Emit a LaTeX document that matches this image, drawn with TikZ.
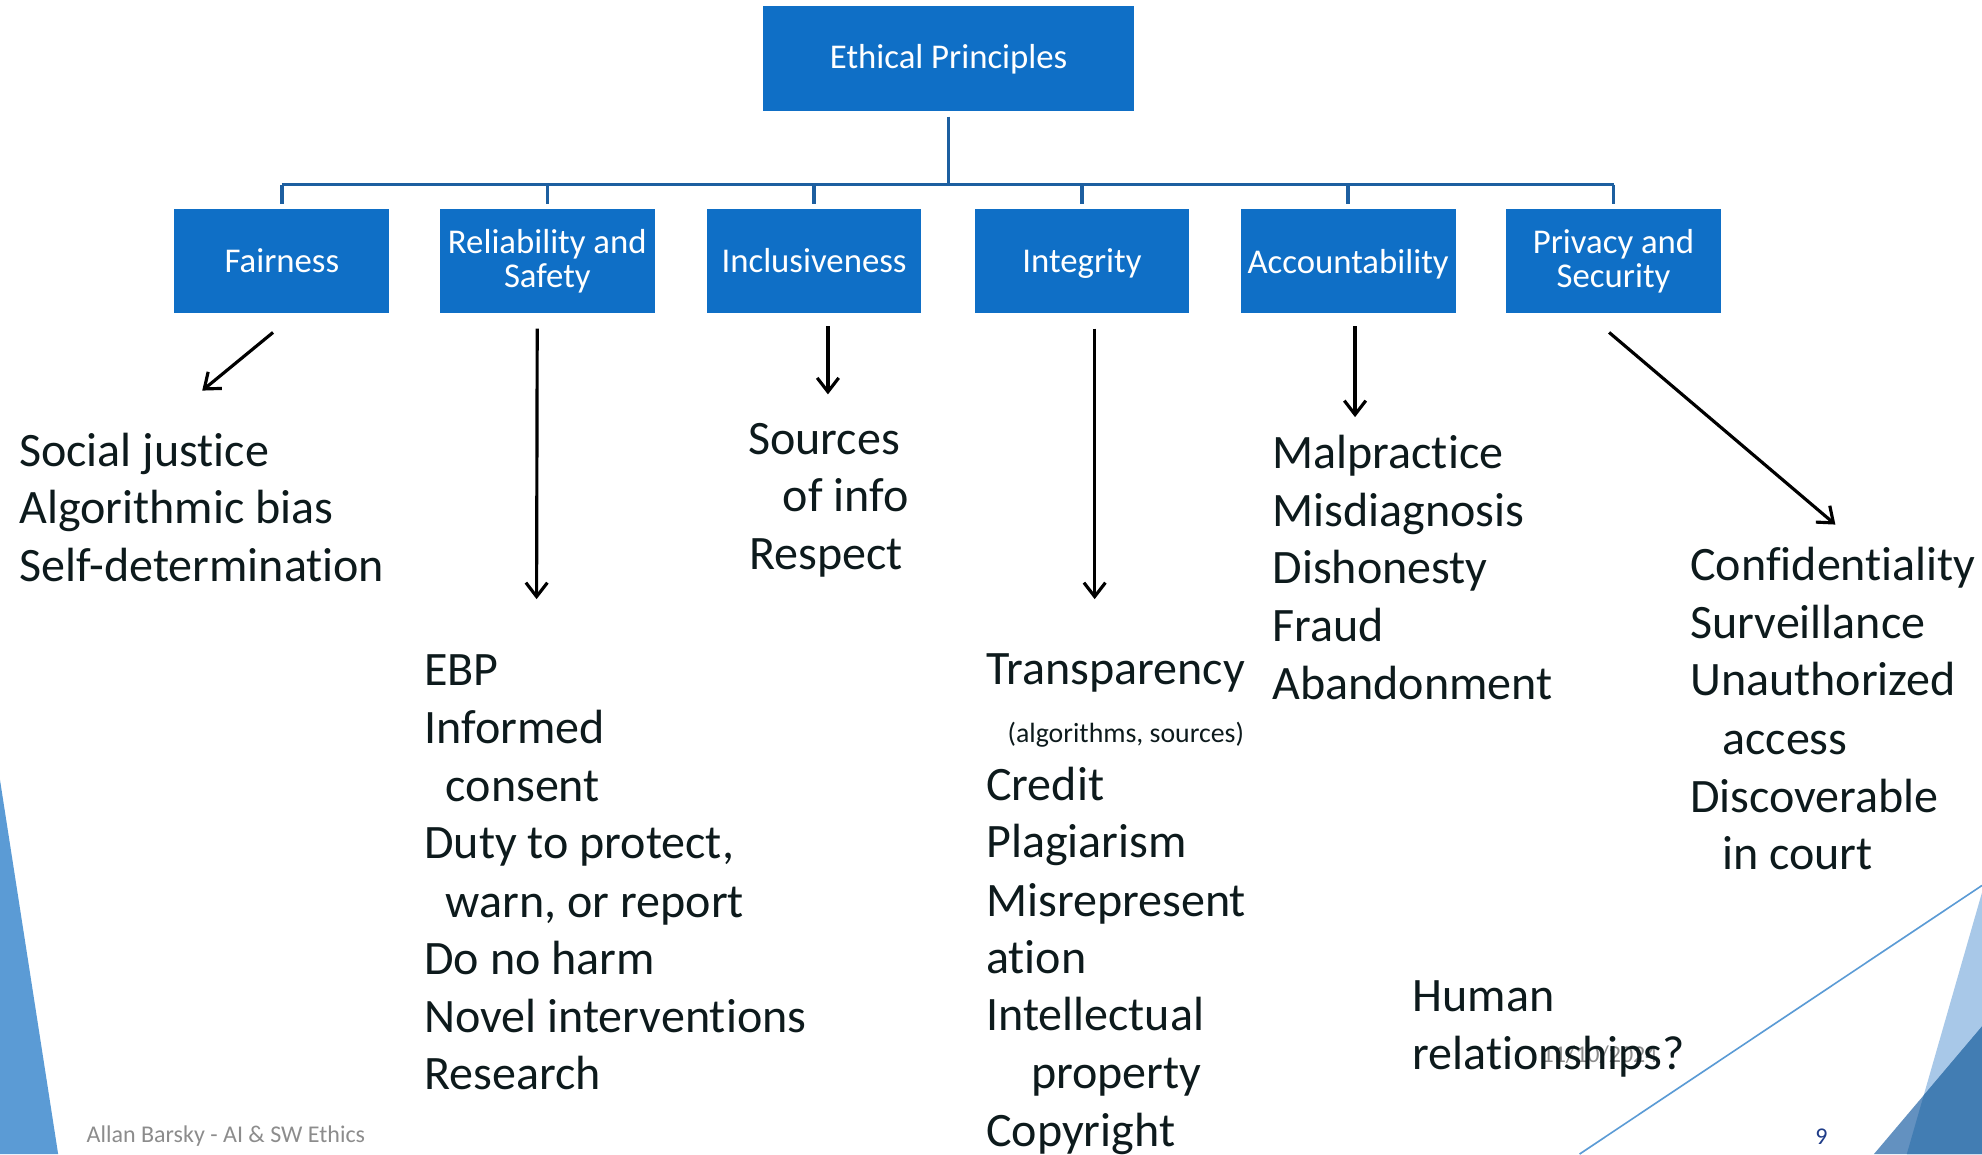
\documentclass[tikz,border=0pt]{standalone}
\usepackage{fontspec}
\setmainfont{Carlito}[Ligatures=NoCommon]
\usetikzlibrary{arrows.meta}
\definecolor{boxblue}{HTML}{0F6FC6}
\definecolor{linkblue}{HTML}{1D5FA0}
\definecolor{ink}{HTML}{0D1A1C}
\definecolor{deco}{HTML}{5B9BD5}
\definecolor{decolight}{HTML}{A8C8E8}
\definecolor{decomid}{HTML}{6391C0}
\definecolor{decodark}{HTML}{427DB3}
\definecolor{footgray}{HTML}{8C8C8C}
\definecolor{pagenum}{HTML}{1F3C88}
\newcommand{\nodepth}[1]{\raisebox{0pt}[\height][0pt]{#1}}
\tikzset{
  pbox/.style={rectangle, fill=boxblue, text=white, inner sep=0pt,
    minimum width=170pt, minimum height=83pt, align=center,
    font=\fontsize{27.5}{27}\selectfont},
  conn/.style={draw=linkblue, line width=2.8pt},
  arr/.style={draw=black, line width=2.5pt, -{Straight Barb[length=11pt,width=17pt,line width=2.5pt]}},
  txt/.style={anchor=base west, inner sep=0pt, text=ink, font=\fontsize{38}{46}\selectfont},
  smalltxt/.style={anchor=base west, inner sep=0pt, text=ink, font=\fontsize{22}{24}\selectfont},
  foottxt/.style={anchor=base west, inner sep=0pt, font=\fontsize{19}{21}\selectfont},
}
\begin{document}
\begin{tikzpicture}[x=1pt, y=-1pt]
\useasboundingbox (0,0) rectangle (1568,913);
% decorations
\fill[deco] (0,617) -- (46,913) -- (0,913) -- cycle;
\fill[decolight] (1568,706) -- (1508.5,913) -- (1568,913) -- cycle;
\fill[decomid] (1568,812) -- (1482.5,913) -- (1568,913) -- cycle;
\fill[decodark] (1568,812) -- (1521.9,866.5) -- (1508.5,913) -- (1568,913) -- cycle;
\draw[deco, line width=1.3pt] (1249.6,913) -- (1568,700.5);

% boxes
\node[pbox, minimum width=293pt] (ep) at (750.5,46.5) {Ethical Principles};
\node[pbox] (b1) at (223,206.5) {Fairness};
\node[pbox] (b2) at (433,206.5) {Reliability and\\Safety};
\node[pbox] (b3) at (644,206.5) {Inclusiveness};
\node[pbox] (b4) at (856,206.5) {\nodepth{Integrity}};
\node[pbox] (b5) at (1066.5,206.5) {\nodepth{Accountability}};
\node[pbox] (b6) at (1276.5,206.5) {Privacy and\\Security};

% connectors
\coordinate (bus) at (0,146);
\draw[conn] ([yshift=-4pt]ep.south) -- (ep.south |- bus);
\draw[conn] (b1.north |- bus) -- (b6.north |- bus);
\foreach \b in {b1,b2,b3,b4,b5,b6}
  \draw[conn] (\b.north |- bus) -- ([yshift=3.5pt]\b.north);

% arrows
\coordinate (a1s) at (216,263); \coordinate (a1e) at (160,309);
\coordinate (a2s) at (425,260); \coordinate (a2e) at (424.5,474);
\coordinate (a3s) at (655,258); \coordinate (a3e) at (655,312);
\coordinate (a4s) at (866,260); \coordinate (a4e) at (866,474);
\coordinate (a5s) at (1072,258); \coordinate (a5e) at (1072,330);
\coordinate (a6s) at (1273,263); \coordinate (a6e) at (1452,415);
\draw[arr] (a1s) -- (a1e);
\draw[arr] (a2s) -- (a2e);
\draw[arr] (a3s) -- (a3e);
\draw[arr] (a4s) -- (a4e);
\draw[arr] (a5s) -- (a5e);
\draw[arr] (a6s) -- (a6e);

% Fairness column
\node[txt] (f1) at (15,369) {Social justice};
\node[txt] (f2) at (15,414.5) {Algorithmic bias};
\node[txt] (f3) at (15,460) {Self-determination};

% Reliability column
\node[txt] (r1) at (335.5,542.5) {EBP};
\node[txt] (r2) at (335.5,588) {Informed};
\node[txt] (r3) at (352.5,634) {consent};
\node[txt] (r4) at (335.5,679.5) {Duty to protect,};
\node[txt] (r5) at (352.5,725.5) {warn, or report};
\node[txt] (r6) at (335.5,771) {Do no harm};
\node[txt] (r7) at (335.5,816.8) {Novel interventions};
\node[txt] (r8) at (335.5,862.3) {Research};

% Inclusiveness column
\node[txt] (i1) at (591.7,359.3) {Sources};
\node[txt] (i2) at (619,405) {of info};
\node[txt] (i3) at (592.6,450.5) {Respect};

% Integrity column
\node[txt] (g1) at (780,541.8) {Transparency};
\node[smalltxt] (g2) at (797,587.4) {(algorithms, sources)};
\node[txt] (g3) at (780,633) {Credit};
\node[txt] (g4) at (780,678.7) {Plagiarism};
\node[txt] (g5) at (780,725.1) {Misrepresent};
\node[txt] (g6) at (780,770) {ation};
\node[txt] (g7) at (780,815.6) {Intellectual};
\node[txt] (g8) at (815.5,861.2) {property};
\node[txt] (g9) at (780,906.9) {Copyright};

% Accountability column
\node[txt] (c1) at (1006.5,370.6) {Malpractice};
\node[txt] (c2) at (1006.5,416.3) {Misdiagnosis};
\node[txt] (c3) at (1006.5,461.9) {Dishonesty};
\node[txt] (c4) at (1006.5,507.6) {Fraud};
\node[txt] (c5) at (1006.5,553.2) {Abandonment};

% Privacy column
\node[txt] (p1) at (1337,459.2) {Confidentiality};
\node[txt] (p2) at (1337,504.9) {Surveillance};
\node[txt] (p3) at (1337,550.1) {Unauthorized};
\node[txt] (p4) at (1362.4,597) {access};
\node[txt] (p5) at (1337,642.5) {Discoverable};
\node[txt] (p6) at (1362.4,688.2) {in court};

% footer
\node[foottxt, text=footgray] (date) at (1219.4,840.4) {11/10/2024};
\node[txt] (h1) at (1117.3,800.4) {Human};
\node[txt] (h2) at (1117.3,846) {relationships?};
\node[foottxt, text=footgray] (foot) at (68.4,904) {Allan Barsky - AI \& SW Ethics};
\node[foottxt, text=pagenum] (pg) at (1436,905.8) {9};
\end{tikzpicture}
\end{document}
